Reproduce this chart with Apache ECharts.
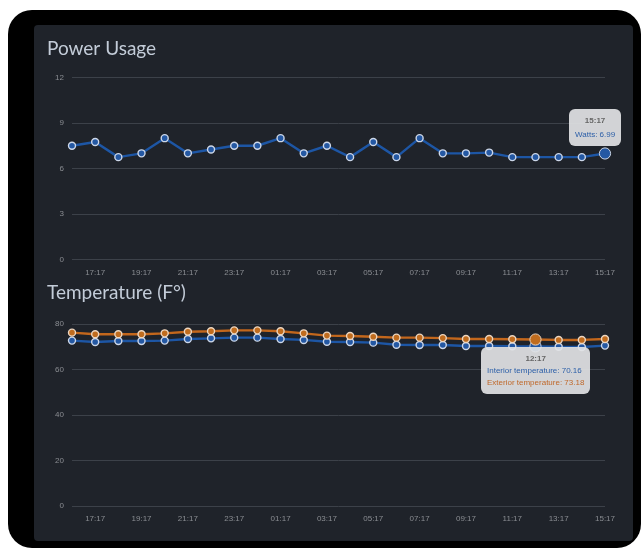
<!DOCTYPE html>
<html>
<head>
<meta charset="utf-8">
<script src="https://cdn.jsdelivr.net/npm/echarts@6/dist/echarts.min.js"></script>
<style>
  html, body { margin:0; padding:0; background:#ffffff; width:643px; height:548px; overflow:hidden; }
  #frame { position:absolute; left:8px; top:10px; width:633px; height:538px; background:#000; border-radius:24px; }
  #panel { position:absolute; left:34px; top:25px; width:599px; height:516px; background:#1f232a; border-radius:4px; }
  #c1 { position:absolute; left:34px; top:25px; width:599px; height:255px; }
  #c2 { position:absolute; left:34px; top:275px; width:599px; height:266px; }
</style>
</head>
<body>
<div id="frame"></div>
<div id="panel"></div>
<div id="c1"></div>
<div id="c2"></div>
<script>
const times = ["16:17","17:17","18:17","19:17","20:17","21:17","22:17","23:17","00:17","01:17","02:17","03:17","04:17","05:17","06:17","07:17","08:17","09:17","10:17","11:17","12:17","13:17","14:17","15:17"];
const watts = [7.5, 7.75, 6.75, 7, 8, 7, 7.25, 7.5, 7.5, 8, 7, 7.5, 6.75, 7.75, 6.75, 8, 7, 7, 7.05, 6.75, 6.75, 6.75, 6.75, 6.99];
const interiorTemp = [72.7, 72.1, 72.5, 72.5, 72.7, 73.4, 73.7, 74.0, 74.0, 73.4, 73.0, 72.2, 72.1, 71.8, 70.9, 70.8, 70.8, 70.3, 70.3, 70.2, 70.16, 70.0, 69.9, 70.5];
const exteriorTemp = [76.2, 75.5, 75.5, 75.5, 75.9, 76.6, 76.8, 77.2, 77.2, 76.8, 75.9, 74.9, 74.7, 74.4, 74.0, 74.0, 73.8, 73.4, 73.4, 73.3, 73.18, 73.0, 73.0, 73.4];
const powerTicks = { min: 0, max: 12, interval: 3 };
const tempTicks = { min: 0, max: 80, interval: 20 };

const BLUE = '#1b4f96', BLUE_PT = '#2458a3', ORANGE = '#b25e1a', ORANGE_PT = '#c06c1e';
const GRID = '#3c4149', LABEL = '#8a8d92';
const LBL_FONT = 'Liberation Sans, Arial, sans-serif';

function xAxis() {
  return {
    type: 'category', data: times, boundaryGap: false,
    axisLine: { show: false }, axisTick: { show: false },
    axisLabel: { color: LABEL, fontSize: 8, fontFamily: LBL_FONT, margin: 9,
      interval: function (i) { return i % 2 === 1; } },
    splitLine: { show: false }
  };
}
function yAxis(t) {
  return {
    type: 'value', min: t.min, max: t.max, interval: t.interval,
    axisLine: { show: false }, axisTick: { show: false },
    axisLabel: { color: LABEL, fontSize: 8, fontFamily: LBL_FONT, margin: 8 },
    splitLine: { lineStyle: { color: GRID, width: 1 } }
  };
}
function lineSeries(name, data, lineColor, ptColor, ptBorder) {
  return {
    name: name, type: 'line', data: data,
    symbol: 'circle', symbolSize: 7,
    lineStyle: { color: lineColor, width: 2.4 },
    itemStyle: { color: ptColor, borderColor: ptBorder, borderWidth: 1.4 },
    emphasis: { scale: 1.6, itemStyle: { color: ptColor, borderColor: ptBorder, borderWidth: 1 } },
    animation: false
  };
}
const tipBase = {
  alwaysShowContent: true, triggerOn: 'none', trigger: 'axis',
  axisPointer: { type: 'none' },
  backgroundColor: 'rgba(226,227,229,0.92)', borderWidth: 0, borderRadius: 6,
  extraCssText: 'box-shadow:none;',
  textStyle: { fontFamily: LBL_FONT, fontSize: 8 }
};
const titleStyle = { color: '#c3ccd8', fontSize: 19, fontWeight: 'normal', fontFamily: 'Lato, "Open Sans", sans-serif' };

const c1 = echarts.init(document.getElementById('c1'));
c1.setOption({
  animation: false,
  title: { text: 'Power Usage', left: 13, top: 14, padding: 0, textStyle: titleStyle },
  grid: { left: 38, right: 28, top: 52.5, bottom: 20.5 },
  xAxis: xAxis(), yAxis: yAxis(powerTicks),
  tooltip: Object.assign({}, tipBase, {
    padding: [5, 6],
    formatter: function (ps) {
      const p = ps[0];
      return '<div style="text-align:center;color:#666;font-weight:bold;line-height:13px">' + p.name + '</div>' +
             '<div style="color:#2b5ea8;line-height:13px;margin-top:1px">Watts: ' + p.value + '</div>';
    },
    position: function (point, params, dom, rect, size) {
      const p = c1.convertToPixel({ seriesIndex: 0 }, [params[0].dataIndex, params[0].value]);
      return [p[0] - size.contentSize[0] + 16, p[1] - size.contentSize[1] - 7];
    }
  }),
  series: [lineSeries('Watts', watts, BLUE, BLUE_PT, '#cdd7e8')]
});

const c2 = echarts.init(document.getElementById('c2'));
c2.setOption({
  animation: false,
  title: { text: 'Temperature (F°)', left: 13, top: 8, padding: 0, textStyle: titleStyle },
  grid: { left: 38, right: 28, top: 49, bottom: 35 },
  xAxis: xAxis(), yAxis: yAxis(tempTicks),
  tooltip: Object.assign({}, tipBase, {
    padding: [5, 6],
    formatter: function (ps) {
      let s = '<div style="text-align:center;color:#666;font-weight:bold;line-height:13px">' + ps[0].name + '</div>';
      const cols = ['#2b5ea8', '#c0682a'];
      ps.forEach(function (p, i) {
        s += '<div style="color:' + cols[i] + ';line-height:12px">' + p.seriesName + ': ' + p.value + '</div>';
      });
      return s;
    },
    position: function (point, params, dom, rect, size) {
      const p = c2.convertToPixel({ seriesIndex: 0 }, [params[0].dataIndex, params[0].value]);
      return [p[0] - size.contentSize[0] / 2, p[1] + 1];
    }
  }),
  series: [
    lineSeries('Interior temperature', interiorTemp, BLUE, BLUE_PT, '#cdd7e8'),
    lineSeries('Exterior temperature', exteriorTemp, ORANGE, ORANGE_PT, '#ecd6c0')
  ]
});

c1.dispatchAction({ type: 'showTip', seriesIndex: 0, dataIndex: 23 });
c1.dispatchAction({ type: 'highlight', seriesIndex: 0, dataIndex: 23 });
c2.dispatchAction({ type: 'showTip', seriesIndex: 0, dataIndex: 20 });
c2.dispatchAction({ type: 'highlight', seriesIndex: [0, 1], dataIndex: 20 });
</script>
</body>
</html>
